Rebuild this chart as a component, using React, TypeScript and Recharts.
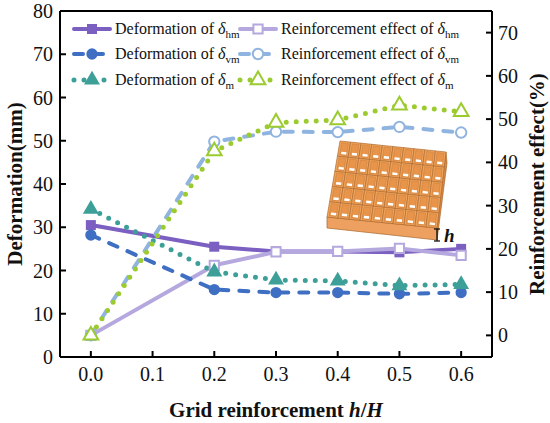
import React from 'react';
import {
  Label,
  Legend,
  Line,
  LineChart,
  ReferenceLine,
  Symbols,
  XAxis,
  YAxis,
} from 'recharts';

// h/H values along the x axis
const gridRatio = [0, 0.2, 0.3, 0.4, 0.5, 0.6];

// deformation (mm), left axis
const deformHm = [30.5, 25.5, 24.4, 24.4, 24.2, 25.0];
const deformVm = [28.2, 15.6, 14.9, 14.9, 14.6, 14.9];
const deformM = [34.2, 19.7, 17.8, 17.6, 16.5, 16.8];

// reinforcement effect (%), right axis
const effectHm = [0, 16.2, 19.3, 19.4, 20.1, 18.5];
const effectVm = [0, 44.8, 47.1, 47.0, 48.2, 46.9];
const effectM = [0, 42.6, 49.2, 49.8, 53.2, 51.7];

const xTicks = [0, 0.1, 0.2, 0.3, 0.4, 0.5, 0.6];
const leftTicks = [0, 10, 20, 30, 40, 50, 60, 70, 80];
const rightTicks = [0, 10, 20, 30, 40, 50, 60, 70];

const rows = gridRatio.map((x, i) => ({
  x,
  deformHm: deformHm[i],
  deformVm: deformVm[i],
  deformM: deformM[i],
  effectHm: effectHm[i],
  effectVm: effectVm[i],
  effectM: effectM[i],
}));

const FONT = '"Liberation Serif", "Times New Roman", serif';

type SeriesStyle = {
  key: string;
  axis: 'left' | 'right';
  prefix: string;
  sub: string;
  color: string;
  shape: 'square' | 'circle' | 'triangle';
  filled: boolean;
  dash?: string;
};

const series: SeriesStyle[] = [
  { key: 'deformHm', axis: 'left', prefix: 'Deformation of ', sub: 'hm', color: '#7b5fc1', shape: 'square', filled: true },
  { key: 'effectHm', axis: 'right', prefix: 'Reinforcement effect of ', sub: 'hm', color: '#b5a8de', shape: 'square', filled: false },
  { key: 'deformVm', axis: 'left', prefix: 'Deformation of ', sub: 'vm', color: '#3f6fc3', shape: 'circle', filled: true, dash: '9 11' },
  { key: 'effectVm', axis: 'right', prefix: 'Reinforcement effect of ', sub: 'vm', color: '#90b4e0', shape: 'circle', filled: false, dash: '9 11' },
  { key: 'deformM', axis: 'left', prefix: 'Deformation of ', sub: 'm', color: '#3c9f98', shape: 'triangle', filled: true, dash: '0 10' },
  { key: 'effectM', axis: 'right', prefix: 'Reinforcement effect of ', sub: 'm', color: '#9bcb2e', shape: 'triangle', filled: false, dash: '0 10' },
];

const markerSize = { square: 100, circle: 100, triangle: 110 };

function Marker({ cx, cy, s }: { cx: number; cy: number; s: SeriesStyle }) {
  return (
    <Symbols
      cx={cx}
      cy={cy}
      type={s.shape}
      size={s.filled ? markerSize[s.shape] : markerSize[s.shape] * 0.85}
      fill={s.filled ? s.color : '#fff'}
      stroke={s.color}
      strokeWidth={s.filled ? 0 : 2}
    />
  );
}

function LegendBox() {
  return (
    <div
      style={{
        display: 'grid',
        gridTemplateColumns: '166px auto',
        fontFamily: FONT,
        fontSize: 16,
        color: '#111',
      }}
    >
      {series.map((s) => (
        <div key={s.key} style={{ display: 'flex', alignItems: 'center', height: 25.5, whiteSpace: 'nowrap' }}>
          <svg width={40} height={16} style={{ overflow: 'visible' }}>
            <line
              x1={2}
              y1={8}
              x2={38}
              y2={8}
              stroke={s.color}
              strokeWidth={s.dash === '0 10' ? 5 : 4}
              strokeDasharray={s.dash}
              strokeLinecap="round"
            />
            <Marker cx={20} cy={8} s={s} />
          </svg>
          <span style={{ marginLeft: 3 }}>
            {s.prefix}
            <i>δ</i>
            <span style={{ fontSize: 11, position: 'relative', top: 4 }}>{s.sub}</span>
          </span>
        </div>
      ))}
    </div>
  );
}

function XTitle(props: any) {
  const { x, y, width, height } = props.viewBox;
  return (
    <text
      x={x + width / 2}
      y={y + height - 6}
      textAnchor="middle"
      fontFamily={FONT}
      fontSize={21}
      fontWeight="bold"
      fill="#111"
    >
      Grid reinforcement <tspan fontStyle="italic">h</tspan>/<tspan fontStyle="italic">H</tspan>
    </text>
  );
}

// the small grid-block picture in the plot
function Inset() {
  const tl = [340, 141];
  const tr = [446, 152];
  const br = [437, 228];
  const bl = [327, 217];
  const pt = (u: number, v: number) => {
    const ax = tl[0] + (tr[0] - tl[0]) * u;
    const ay = tl[1] + (tr[1] - tl[1]) * u;
    const bx = bl[0] + (br[0] - bl[0]) * u;
    const by = bl[1] + (br[1] - bl[1]) * u;
    return [ax + (bx - ax) * v, ay + (by - ay) * v];
  };
  const poly = (pts: number[][]) => pts.map((p) => p.join(',')).join(' ');
  const cells = [];
  const cols = 10;
  const rowsN = 5;
  for (let r = 0; r < rowsN; r++) {
    for (let c = 0; c < cols; c++) {
      const u0 = c / cols;
      const u1 = (c + 1) / cols;
      const v0 = r / rowsN;
      const v1 = (r + 1) / rowsN;
      const du = (u1 - u0) * 0.18;
      const dv = (v1 - v0) * 0.1;
      cells.push(
        <g key={`${r}-${c}`}>
          <polygon points={poly([pt(u0, v0), pt(u1, v0), pt(u1, v1), pt(u0, v1)])} fill="#f0a55c" stroke="#b06a2e" strokeWidth={0.7} />
          <polygon
            points={poly([pt(u0 + du, v0 + dv), pt(u1 - du, v0 + dv), pt(u1 - du, v1 - dv), pt(u0 + du, v1 - dv)])}
            fill="#e8944a"
            stroke="#c97c3a"
            strokeWidth={0.5}
          />
          <polygon
            points={poly([
              pt(u0 + (u1 - u0) * 0.3, v0 + (v1 - v0) * 0.68),
              pt(u0 + (u1 - u0) * 0.78, v0 + (v1 - v0) * 0.68),
              pt(u0 + (u1 - u0) * 0.78, v0 + (v1 - v0) * 0.84),
              pt(u0 + (u1 - u0) * 0.3, v0 + (v1 - v0) * 0.84),
            ])}
            fill="#fff"
          />
        </g>
      );
    }
  }
  return (
    <svg width={550} height={423} style={{ position: 'absolute', left: 0, top: 0, pointerEvents: 'none' }}>
      <polygon points={poly([tr, [447, 163], [437, 240], br])} fill="#d98a45" stroke="#a8652a" strokeWidth={0.7} />
      <polygon points={poly([bl, br, [437, 240], [327, 228]])} fill="#eea060" stroke="#a8652a" strokeWidth={0.7} />
      {cells}
      <g stroke="#111" strokeWidth={1.3}>
        <line x1={437} y1={229} x2={437} y2={241} />
        <line x1={434} y1={229} x2={440} y2={229} />
        <line x1={434} y1={241} x2={440} y2={241} />
      </g>
      <text x={444} y={242} fontFamily={FONT} fontSize={19} fontWeight="bold" fontStyle="italic" fill="#111">
        h
      </text>
    </svg>
  );
}

const tickStyle = { fill: '#111', fontSize: 20, fontFamily: FONT };
const axisStroke = { stroke: '#000', strokeWidth: 2 };

export default function App() {
  return (
    <div style={{ position: 'absolute', left: 0, top: 0, width: 550, height: 423, background: '#fff' }}>
      <LineChart width={550} height={423} data={rows} margin={{ top: 11, right: 0, left: 0, bottom: 0 }}>
        <XAxis
          dataKey="x"
          type="number"
          domain={[-0.05, 0.65]}
          ticks={xTicks}
          interval={0}
          tickFormatter={(v: number) => v.toFixed(1)}
          height={66}
          tick={tickStyle}
          tickSize={-6}
          tickMargin={16}
          axisLine={axisStroke}
          tickLine={axisStroke}
        >
          <Label content={XTitle} />
        </XAxis>
        <YAxis
          yAxisId="left"
          domain={[0, 80]}
          ticks={leftTicks}
          interval={0}
          width={60}
          tick={tickStyle}
          tickSize={-6}
          tickMargin={13}
          axisLine={axisStroke}
          tickLine={axisStroke}
          label={{
            value: 'Deformation(mm)',
            angle: -90,
            position: 'insideLeft',
            offset: 15,
            style: { textAnchor: 'middle', fontFamily: FONT, fontSize: 21, fontWeight: 'bold', fill: '#111' },
          }}
        />
        <YAxis
          yAxisId="right"
          orientation="right"
          domain={[-5, 75]}
          ticks={rightTicks}
          interval={0}
          width={58}
          tick={tickStyle}
          tickSize={-6}
          tickMargin={12}
          axisLine={axisStroke}
          tickLine={axisStroke}
          label={{
            value: 'Reinforcement effect(%)',
            angle: -90,
            position: 'insideRight',
            offset: 13,
            style: { textAnchor: 'middle', fontFamily: FONT, fontSize: 21, fontWeight: 'bold', fill: '#111' },
          }}
        />
        <ReferenceLine yAxisId="left" y={80} stroke="#000" strokeWidth={2} />
        <Legend
          layout="horizontal"
          verticalAlign="middle"
          align="center"
          wrapperStyle={{ top: 16, left: 72, width: 420 }}
          content={() => <LegendBox />}
        />
        {series.map((s) => (
          <Line
            key={s.key}
            yAxisId={s.axis}
            dataKey={s.key}
            type="linear"
            stroke={s.color}
            strokeWidth={s.dash === '0 10' ? 5 : 4}
            strokeDasharray={s.dash}
            strokeLinecap="round"
            strokeLinejoin="round"
            isAnimationActive={false}
            dot={(p: any) => <Marker key={`${s.key}-${p.index}`} cx={p.cx} cy={p.cy} s={s} />}
            activeDot={false}
            legendType="none"
          />
        ))}
      </LineChart>
      <Inset />
    </div>
  );
}
